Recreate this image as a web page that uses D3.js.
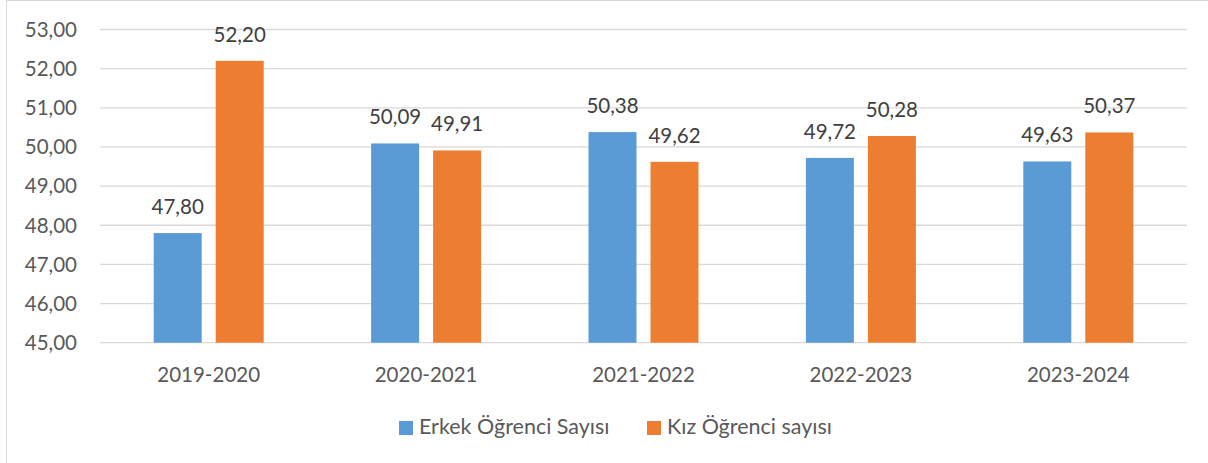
<!DOCTYPE html>
<html>
<head>
<meta charset="utf-8">
<script src="https://cdn.jsdelivr.net/npm/d3@7"></script>
<style>
  body { margin: 0; background: #fff; }
  svg { display: block; font-family: Lato, "Open Sans", sans-serif; }
</style>
</head>
<body>
<svg width="1208" height="463"></svg>
<script>
// data
const categories = ["2019-2020", "2020-2021", "2021-2022", "2022-2023", "2023-2024"];
const seriesNames = ["Erkek Öğrenci Sayısı", "Kız Öğrenci sayısı"];
const erkek = [47.80, 50.09, 50.38, 49.72, 49.63];
const kiz = [52.20, 49.91, 49.62, 50.28, 50.37];
const yTicks = [45, 46, 47, 48, 49, 50, 51, 52, 53];
const colors = ["#5B9BD5", "#ED7D31"];

const rows = categories.map((c, i) => ({ cat: c, values: [erkek[i], kiz[i]] }));

const fmt = d3.formatLocale({ decimal: ",", thousands: ".", grouping: [3], currency: ["", ""] }).format(".2f");

const svg = d3.select("svg");
const textColor = "#595959";
const fs = 20.5;

// chart frame
svg.append("rect")
  .attr("x", 6.5).attr("y", 0.5)
  .attr("width", 1220).attr("height", 480)
  .attr("fill", "none").attr("stroke", "#D9D9D9");

const plotLeft = 100, plotRight = 1187, plotTop = 29.5, plotBottom = 342.7;

const y = d3.scaleLinear().domain([45, 53]).range([plotBottom, plotTop]);
const x0 = d3.scaleBand().domain(categories).range([plotLeft, plotRight]);
const bw = x0.bandwidth();
const x1 = d3.scaleBand().domain([0, 1])
  .range([bw / 2 - 55, bw / 2 + 55])
  .paddingInner(0.226);

// gridlines
svg.append("g")
  .selectAll("line")
  .data(yTicks)
  .join("line")
  .attr("x1", plotLeft).attr("x2", plotRight)
  .attr("y1", d => y(d)).attr("y2", d => y(d))
  .attr("stroke", "#D9D9D9").attr("stroke-width", 1.3);

// y tick labels
svg.append("g")
  .selectAll("text")
  .data(yTicks)
  .join("text")
  .attr("x", 77)
  .attr("y", d => y(d))
  .attr("dy", "0.36em")
  .attr("text-anchor", "end")
  .attr("fill", textColor)
  .attr("font-size", fs)
  .text(d => fmt(d));

// bars
const groups = svg.append("g")
  .selectAll("g")
  .data(rows)
  .join("g")
  .attr("transform", d => `translate(${x0(d.cat)},0)`);

groups.selectAll("rect")
  .data(d => d.values.map((v, k) => ({ v, k })))
  .join("rect")
  .attr("x", d => x1(d.k))
  .attr("width", x1.bandwidth())
  .attr("y", d => y(d.v))
  .attr("height", d => y(45) - y(d.v))
  .attr("fill", d => colors[d.k]);

// data labels
groups.selectAll("text")
  .data(d => d.values.map((v, k) => ({ v, k })))
  .join("text")
  .attr("x", d => x1(d.k) + x1.bandwidth() / 2)
  .attr("y", d => y(d.v) - 19)
  .attr("text-anchor", "middle")
  .attr("fill", "#404040")
  .attr("font-size", fs)
  .text(d => fmt(d.v));

// x labels
svg.append("g")
  .selectAll("text")
  .data(categories)
  .join("text")
  .attr("x", d => x0(d) + bw / 2)
  .attr("y", 382)
  .attr("text-anchor", "middle")
  .attr("fill", textColor)
  .attr("font-size", fs)
  .text(d => d);

// legend
const legendX = [399, 647];
const legend = svg.append("g")
  .selectAll("g")
  .data(seriesNames)
  .join("g")
  .attr("transform", (d, i) => `translate(${legendX[i]},421)`);
legend.append("rect")
  .attr("width", 14).attr("height", 14)
  .attr("fill", (d, i) => colors[i]);
legend.append("text")
  .attr("x", 20).attr("y", 13)
  .attr("fill", textColor)
  .attr("font-size", 21.5)
  .text(d => d);
</script>
</body>
</html>
